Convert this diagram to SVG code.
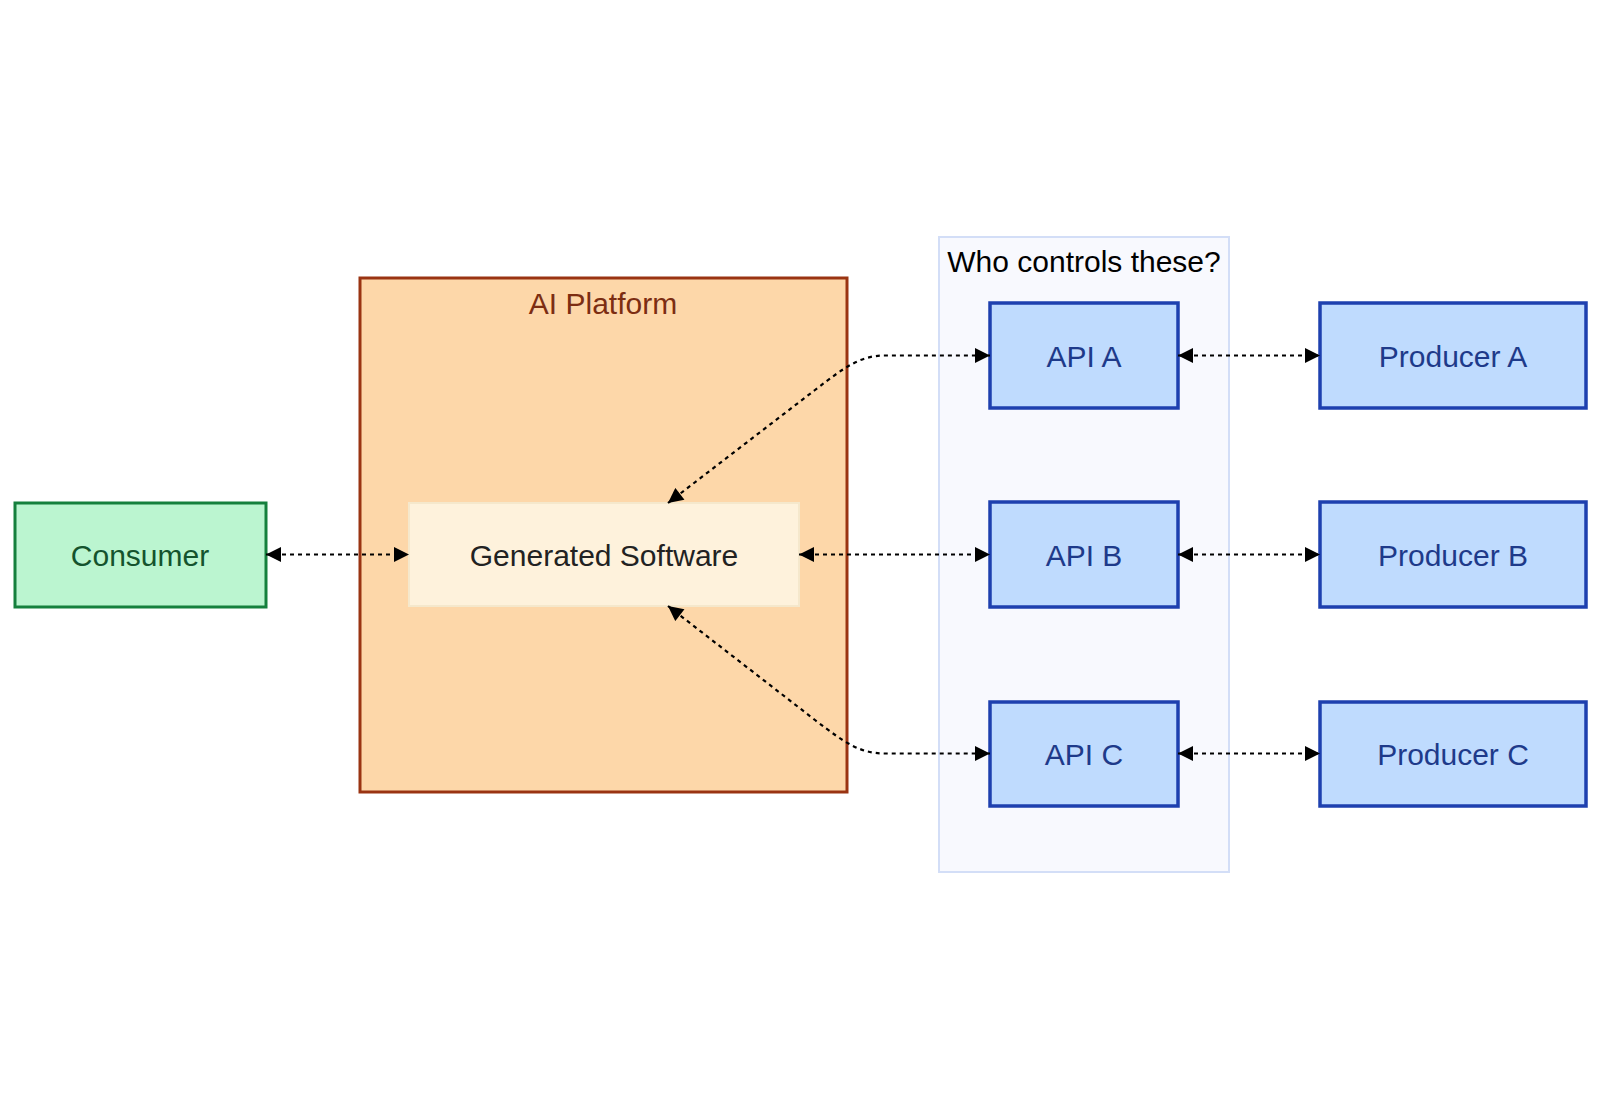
<svg xmlns="http://www.w3.org/2000/svg" width="1600" height="1109" viewBox="0 0 1600 1109">
<style>
text{font-family:"Liberation Sans",Arial,sans-serif;font-size:30px;text-anchor:middle;dominant-baseline:central}
.edge{fill:none;stroke:#000;stroke-width:2.2;stroke-dasharray:4 4;marker-start:url(#arr);marker-end:url(#arr)}
.api rect{fill:#bfdbfe;stroke:#1e40af;stroke-width:3.5}
.api text{fill:#1e3a8a}
</style>
<defs>
<marker id="arr" viewBox="0 0 10 10" refX="10" refY="5" markerUnits="userSpaceOnUse" markerWidth="16" markerHeight="15" orient="auto-start-reverse">
<path d="M0,0 L10,5 L0,10 z" fill="#000"/>
</marker>
</defs>
<rect width="1600" height="1109" fill="#fff"/>
<g id="ai-platform">
<rect x="360" y="278" width="487" height="514" fill="#fdd7a9" stroke="#9a3412" stroke-width="3"/>
<text x="603" y="303" fill="#7c2d12" font-size="31">AI Platform</text>
</g>
<g id="who-controls">
<rect x="939" y="237" width="290" height="635" fill="#f8f9fe" stroke="#d3def7" stroke-width="2"/>
<text x="1084" y="261" fill="#000">Who controls these?</text>
</g>
<g id="consumer">
<rect x="15" y="503" width="251" height="104" fill="#bbf5d0" stroke="#15803d" stroke-width="3"/>
<text x="140" y="555" fill="#14532d">Consumer</text>
</g>
<g id="generated-software">
<rect x="409" y="503" width="390" height="103" fill="#fef2dc" stroke="#f5e8cc" stroke-width="2"/>
<text x="604" y="555" fill="#222">Generated Software</text>
</g>
<g id="api-a" class="api"><rect x="990" y="303" width="188" height="105"/><text x="1084" y="356">API A</text></g>
<g id="api-b" class="api"><rect x="990" y="502" width="188" height="105"/><text x="1084" y="555">API B</text></g>
<g id="api-c" class="api"><rect x="990" y="702" width="188" height="104"/><text x="1084" y="754">API C</text></g>
<g id="producer-a" class="api"><rect x="1320" y="303" width="266" height="105"/><text x="1453" y="356">Producer A</text></g>
<g id="producer-b" class="api"><rect x="1320" y="502" width="266" height="105"/><text x="1453" y="555">Producer B</text></g>
<g id="producer-c" class="api"><rect x="1320" y="702" width="266" height="104"/><text x="1453" y="754">Producer C</text></g>
<g id="connectors">
<path class="edge" d="M266,554.5 L409,554.5"/>
<path class="edge" d="M668,503 L815,390 C845,367 860,355.5 885,355.5 L990,355.5"/>
<path class="edge" d="M799,554.5 L990,554.5"/>
<path class="edge" d="M668,606 L815,720 C845,743 860,753.5 885,753.5 L990,753.5"/>
<path class="edge" d="M1178,355.5 L1320,355.5"/>
<path class="edge" d="M1178,554.5 L1320,554.5"/>
<path class="edge" d="M1178,753.5 L1320,753.5"/>
</g>
</svg>
